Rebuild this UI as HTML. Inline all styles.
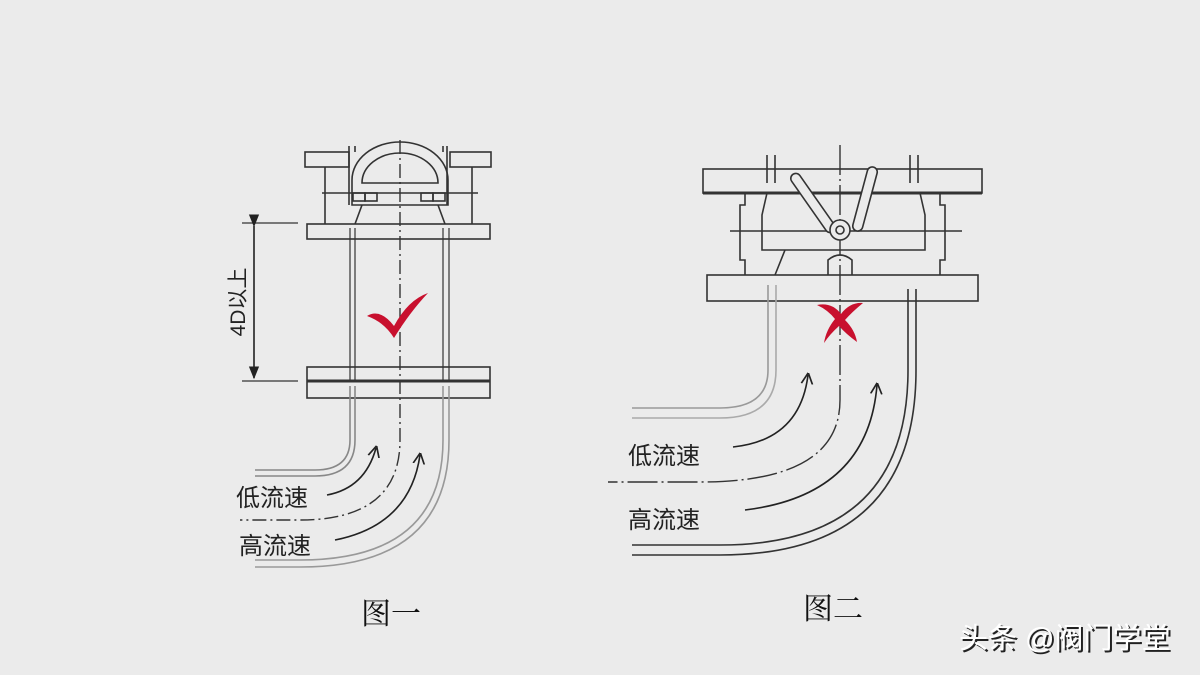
<!DOCTYPE html>
<html><head><meta charset="utf-8"><style>
html,body{margin:0;padding:0;background:#ebebeb;}
svg{display:block}
text{font-family:"Liberation Sans","Noto Sans CJK SC",sans-serif;}
</style></head><body>
<svg width="1200" height="675" viewBox="0 0 1200 675" xmlns="http://www.w3.org/2000/svg">
<rect width="1200" height="675" fill="#ebebeb"/>
<defs>
<marker id="ah" viewBox="0 0 10 10" refX="8" refY="5" markerWidth="7" markerHeight="9" orient="auto"><path d="M0,0 L10,5 L0,10" fill="none" stroke="#222" stroke-width="1.5"/></marker>
<marker id="dh" viewBox="0 0 10 10" refX="9" refY="5" markerWidth="8" markerHeight="8" orient="auto"><path d="M0,1 L10,5 L0,9 Z" fill="#222"/></marker>
</defs>
<g fill="none" stroke="#333" stroke-width="1.6">
<!-- FIGURE 1 -->
<rect x="305" y="152" width="44" height="15"/>
<rect x="450" y="152" width="41" height="15"/>
<line x1="349" y1="146" x2="349" y2="205"/><line x1="355" y1="146" x2="355" y2="152"/>
<line x1="447" y1="146" x2="447" y2="205"/><line x1="443" y1="146" x2="443" y2="152"/>
<line x1="325" y1="167" x2="325" y2="224"/><line x1="472" y1="167" x2="472" y2="224"/>
<path d="M352,205 L352,180 A48,38 0 0 1 448,180 L448,205 Z"/>
<path d="M362,183 A38,30 0 0 1 438,183 Z"/>
<rect x="353" y="193" width="12" height="8"/><rect x="365" y="193" width="12" height="8"/>
<rect x="421" y="193" width="12" height="8"/><rect x="433" y="193" width="12" height="8"/>
<line x1="322" y1="193" x2="478" y2="193"/>
<path d="M362,205 L355,224 M438,205 L445,224"/>
<rect x="307" y="224" width="183" height="15"/>
<path d="M350,228 L350,380 M355,228 L355,380 M443,228 L443,380 M449,228 L449,380" stroke-width="1.2"/>
<rect x="307" y="367" width="183" height="31"/>
<line x1="307" y1="381" x2="490" y2="381" stroke-width="3"/>
<path d="M350,386 L350,440 Q350,470 315,470 L255,470" stroke="#888"/>
<path d="M355,386 L355,440 Q355,476 315,476 L255,476" stroke="#888"/>
<path d="M443,386 L443,440 Q443,560 300,560 L255,560" stroke="#999"/>
<path d="M449,386 L449,440 Q449,567 300,567 L255,567" stroke="#999"/>
<path d="M400,140 L400,440 Q400,520 300,520 L240,520" stroke-dasharray="14,4,2,4" stroke-width="1.4"/>
<line x1="242" y1="223" x2="298" y2="223" stroke-width="1.2"/>
<line x1="242" y1="381" x2="298" y2="381" stroke-width="1.2"/>
<line x1="254" y1="226" x2="254" y2="378" stroke="#222" marker-start="url(#dh)" marker-end="url(#dh)"/>
<path d="M327,495 Q365,488 376,448" stroke="#222" marker-end="url(#ah)"/>
<path d="M335,540 Q410,525 420,455" stroke="#222" marker-end="url(#ah)"/>
<!-- FIGURE 2 -->
<line x1="767" y1="155" x2="767" y2="183"/><line x1="775" y1="155" x2="775" y2="183"/>
<line x1="910" y1="155" x2="910" y2="183"/><line x1="918" y1="155" x2="918" y2="183"/>
<rect x="703" y="169" width="279" height="24"/>
<line x1="703" y1="193" x2="982" y2="193" stroke-width="3"/>
<path d="M745,193 L745,205 L740,205 L740,260 L745,260 L745,275 M940,193 L940,205 L945,205 L945,260 L940,260 L940,275"/>
<path d="M767,193 L762,215 L762,250 L925,250 L925,215 L920,193"/>
<line x1="730" y1="231" x2="962" y2="231"/>
<path d="M785,250 L775,275 M828,275 L828,260 Q840,250 852,260 L852,275"/>
<rect x="707" y="275" width="271" height="26"/>
<path d="M768,285 L768,370 Q768,408 720,408 L632,408" stroke="#999"/>
<path d="M776,285 L776,370 Q776,418 720,418 L632,418" stroke="#aaa"/>
<path d="M908,289 L908,370 Q908,545 720,545 L632,545"/>
<path d="M916,289 L916,370 Q916,555 720,555 L632,555"/>
<path d="M840,145 L840,400 Q840,482 700,482 L608,482" stroke-dasharray="30,4,2,4" stroke-width="1.4"/>
<path d="M733,447 Q800,440 808,375" stroke="#222" marker-end="url(#ah)"/>
<path d="M745,510 Q868,495 877,385" stroke="#222" marker-end="url(#ah)"/>
<g fill="#ebebeb" stroke="#333" stroke-width="1.6">
<rect x="808" y="168" width="10" height="70" rx="5" transform="rotate(-35 813 203)"/>
<rect x="860" y="166" width="10" height="66" rx="5" transform="rotate(15 865 199)"/>
<circle cx="840" cy="230" r="10"/><circle cx="840" cy="230" r="4"/>
</g>
</g>
<!-- marks -->
<path d="M367,316 Q380,308 394,326 Q408,300 428,293 Q410,312 394,338 Q384,322 367,316 Z" fill="#c8102e"/>
<path d="M817,305 Q832,302 841,314 Q850,302 863,303 Q852,312 845,320 Q855,330 857,342 Q846,334 839,326 Q830,334 824,343 Q826,330 835,319 Q828,310 817,305 Z" fill="#c8102e"/>
<!-- labels -->
<g fill="#222" font-size="24">
<text x="236" y="506">低流速</text>
<text x="239" y="554">高流速</text>
<text x="628" y="464">低流速</text>
<text x="628" y="528">高流速</text>
<text transform="translate(245,302) rotate(-90)" font-size="21" text-anchor="middle">4D以上</text>
</g>
<g fill="#111" font-size="30">
<text x="361" y="624" style="font-family:'Liberation Serif','Noto Serif CJK SC',serif">图一</text>
<text x="803" y="619" style="font-family:'Liberation Serif','Noto Serif CJK SC',serif">图二</text>
</g>
<text x="961" y="650" font-size="29" fill="#222">头条 @阀门学堂</text>
<text x="959" y="648" font-size="29" fill="#fff">头条 @阀门学堂</text>
</svg>
</body></html>
